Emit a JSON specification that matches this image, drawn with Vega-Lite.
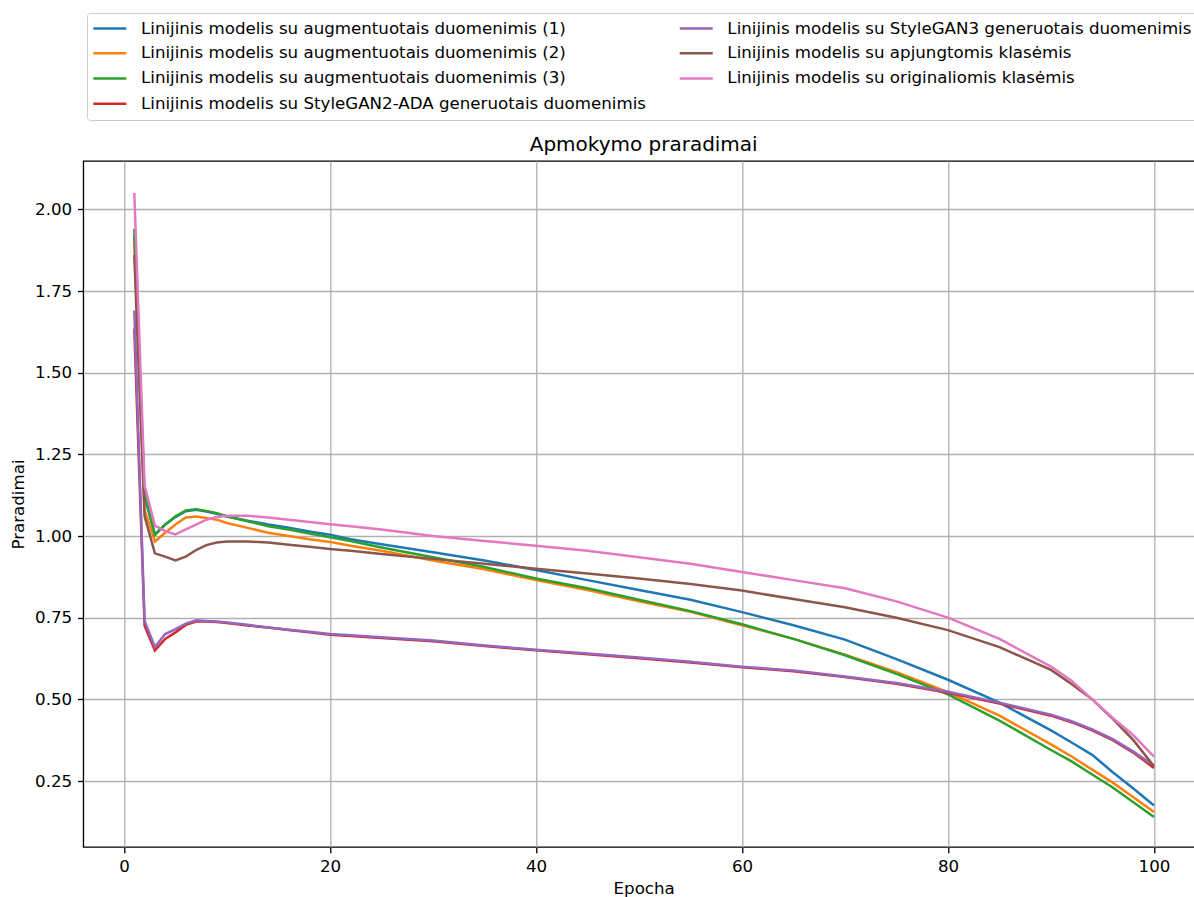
{
  "$schema": "https://vega.github.io/schema/vega-lite/v6.json",
  "width": 1112.4,
  "height": 686,
  "autosize": "none",
  "padding": {"left": 83.3, "top": 161, "right": 0, "bottom": 50},
  "background": "white",
  "config": {
    "font": "DejaVu Sans",
    "view": {"stroke": "black", "strokeWidth": 1.33},
    "axis": {
      "domain": false,
      "tickColor": "black",
      "tickWidth": 1.33,
      "tickSize": 5.8,
      "labelPadding": 5.8,
      "labelFontSize": 16.67,
      "labelFont": "DejaVu Sans",
      "labelColor": "black",
      "labelFlush": false,
      "labelOverlap": false,
      "grid": true,
      "gridColor": "#b0b0b0",
      "gridWidth": 1.33,
      "titleFont": "DejaVu Sans",
      "titleFontSize": 16.67,
      "titleFontWeight": "normal",
      "titleColor": "black"
    }
  },
  "title": {
    "text": "Apmokymo praradimai",
    "font": "DejaVu Sans",
    "fontSize": 20,
    "fontWeight": "normal",
    "color": "black",
    "anchor": "middle",
    "frame": "group",
    "baseline": "alphabetic",
    "offset": -158.7,
    "dx": 4.2
  },
  "datasets": {
    "names": [
      {"k": "a1", "name": "Linijinis modelis su augmentuotais duomenimis (1)"},
      {"k": "a2", "name": "Linijinis modelis su augmentuotais duomenimis (2)"},
      {"k": "a3", "name": "Linijinis modelis su augmentuotais duomenimis (3)"},
      {"k": "sg2", "name": "Linijinis modelis su StyleGAN2-ADA generuotais duomenimis"},
      {"k": "sg3", "name": "Linijinis modelis su StyleGAN3 generuotais duomenimis"},
      {"k": "apj", "name": "Linijinis modelis su apjungtomis klasėmis"},
      {"k": "orig", "name": "Linijinis modelis su originaliomis klasėmis"}
    ],
    "loss": [
      {"k":"a1","e":1,"v":1.92},{"k":"a1","e":2,"v":1.12},{"k":"a1","e":3,"v":1.005},{"k":"a1","e":4,"v":1.035},{"k":"a1","e":5,"v":1.058},{"k":"a1","e":6,"v":1.076},{"k":"a1","e":7,"v":1.08},{"k":"a1","e":8,"v":1.075},{"k":"a1","e":9,"v":1.068},{"k":"a1","e":10,"v":1.06},{"k":"a1","e":12,"v":1.047},{"k":"a1","e":14,"v":1.035},{"k":"a1","e":16,"v":1.025},{"k":"a1","e":18,"v":1.014},{"k":"a1","e":20,"v":1.004},{"k":"a1","e":22,"v":0.99},{"k":"a1","e":25,"v":0.975},{"k":"a1","e":30,"v":0.95},{"k":"a1","e":35,"v":0.925},{"k":"a1","e":40,"v":0.896},{"k":"a1","e":45,"v":0.865},{"k":"a1","e":50,"v":0.835},{"k":"a1","e":55,"v":0.805},{"k":"a1","e":60,"v":0.767},{"k":"a1","e":65,"v":0.727},{"k":"a1","e":70,"v":0.683},{"k":"a1","e":75,"v":0.623},{"k":"a1","e":80,"v":0.56},{"k":"a1","e":85,"v":0.49},{"k":"a1","e":90,"v":0.405},{"k":"a1","e":92,"v":0.368},{"k":"a1","e":94,"v":0.33},{"k":"a1","e":96,"v":0.277},{"k":"a1","e":98,"v":0.227},{"k":"a1","e":100,"v":0.175},
      {"k":"a2","e":1,"v":1.90},{"k":"a2","e":2,"v":1.08},{"k":"a2","e":3,"v":0.983},{"k":"a2","e":4,"v":1.01},{"k":"a2","e":5,"v":1.035},{"k":"a2","e":6,"v":1.057},{"k":"a2","e":7,"v":1.06},{"k":"a2","e":8,"v":1.055},{"k":"a2","e":9,"v":1.05},{"k":"a2","e":10,"v":1.04},{"k":"a2","e":12,"v":1.025},{"k":"a2","e":14,"v":1.01},{"k":"a2","e":16,"v":1.0},{"k":"a2","e":18,"v":0.99},{"k":"a2","e":20,"v":0.982},{"k":"a2","e":22,"v":0.97},{"k":"a2","e":25,"v":0.955},{"k":"a2","e":30,"v":0.925},{"k":"a2","e":35,"v":0.898},{"k":"a2","e":40,"v":0.865},{"k":"a2","e":45,"v":0.835},{"k":"a2","e":50,"v":0.80},{"k":"a2","e":55,"v":0.768},{"k":"a2","e":60,"v":0.727},{"k":"a2","e":65,"v":0.685},{"k":"a2","e":70,"v":0.637},{"k":"a2","e":75,"v":0.583},{"k":"a2","e":80,"v":0.522},{"k":"a2","e":85,"v":0.45},{"k":"a2","e":90,"v":0.362},{"k":"a2","e":92,"v":0.325},{"k":"a2","e":94,"v":0.285},{"k":"a2","e":96,"v":0.245},{"k":"a2","e":98,"v":0.2},{"k":"a2","e":100,"v":0.155},
      {"k":"a3","e":1,"v":1.94},{"k":"a3","e":2,"v":1.13},{"k":"a3","e":3,"v":1.003},{"k":"a3","e":4,"v":1.035},{"k":"a3","e":5,"v":1.06},{"k":"a3","e":6,"v":1.078},{"k":"a3","e":7,"v":1.082},{"k":"a3","e":8,"v":1.077},{"k":"a3","e":9,"v":1.07},{"k":"a3","e":10,"v":1.06},{"k":"a3","e":12,"v":1.045},{"k":"a3","e":14,"v":1.03},{"k":"a3","e":16,"v":1.02},{"k":"a3","e":18,"v":1.008},{"k":"a3","e":20,"v":0.996},{"k":"a3","e":22,"v":0.985},{"k":"a3","e":25,"v":0.965},{"k":"a3","e":30,"v":0.935},{"k":"a3","e":35,"v":0.905},{"k":"a3","e":40,"v":0.87},{"k":"a3","e":45,"v":0.84},{"k":"a3","e":50,"v":0.805},{"k":"a3","e":55,"v":0.77},{"k":"a3","e":60,"v":0.73},{"k":"a3","e":65,"v":0.685},{"k":"a3","e":70,"v":0.635},{"k":"a3","e":75,"v":0.578},{"k":"a3","e":80,"v":0.515},{"k":"a3","e":85,"v":0.435},{"k":"a3","e":90,"v":0.345},{"k":"a3","e":92,"v":0.31},{"k":"a3","e":94,"v":0.27},{"k":"a3","e":96,"v":0.23},{"k":"a3","e":98,"v":0.185},{"k":"a3","e":100,"v":0.14},
      {"k":"sg2","e":1,"v":1.635},{"k":"sg2","e":2,"v":0.725},{"k":"sg2","e":3,"v":0.65},{"k":"sg2","e":4,"v":0.685},{"k":"sg2","e":5,"v":0.705},{"k":"sg2","e":6,"v":0.728},{"k":"sg2","e":7,"v":0.738},{"k":"sg2","e":8,"v":0.738},{"k":"sg2","e":9,"v":0.737},{"k":"sg2","e":10,"v":0.734},{"k":"sg2","e":12,"v":0.726},{"k":"sg2","e":14,"v":0.72},{"k":"sg2","e":16,"v":0.712},{"k":"sg2","e":18,"v":0.705},{"k":"sg2","e":20,"v":0.698},{"k":"sg2","e":22,"v":0.694},{"k":"sg2","e":25,"v":0.688},{"k":"sg2","e":30,"v":0.678},{"k":"sg2","e":35,"v":0.663},{"k":"sg2","e":40,"v":0.65},{"k":"sg2","e":45,"v":0.638},{"k":"sg2","e":50,"v":0.626},{"k":"sg2","e":55,"v":0.613},{"k":"sg2","e":60,"v":0.598},{"k":"sg2","e":65,"v":0.586},{"k":"sg2","e":70,"v":0.568},{"k":"sg2","e":75,"v":0.548},{"k":"sg2","e":80,"v":0.52},{"k":"sg2","e":85,"v":0.487},{"k":"sg2","e":90,"v":0.45},{"k":"sg2","e":92,"v":0.43},{"k":"sg2","e":94,"v":0.405},{"k":"sg2","e":96,"v":0.375},{"k":"sg2","e":98,"v":0.337},{"k":"sg2","e":100,"v":0.29},
      {"k":"sg3","e":1,"v":1.69},{"k":"sg3","e":2,"v":0.74},{"k":"sg3","e":3,"v":0.66},{"k":"sg3","e":4,"v":0.70},{"k":"sg3","e":5,"v":0.715},{"k":"sg3","e":6,"v":0.732},{"k":"sg3","e":7,"v":0.742},{"k":"sg3","e":8,"v":0.74},{"k":"sg3","e":9,"v":0.738},{"k":"sg3","e":10,"v":0.735},{"k":"sg3","e":12,"v":0.728},{"k":"sg3","e":14,"v":0.72},{"k":"sg3","e":16,"v":0.713},{"k":"sg3","e":18,"v":0.707},{"k":"sg3","e":20,"v":0.70},{"k":"sg3","e":22,"v":0.696},{"k":"sg3","e":25,"v":0.69},{"k":"sg3","e":30,"v":0.68},{"k":"sg3","e":35,"v":0.665},{"k":"sg3","e":40,"v":0.652},{"k":"sg3","e":45,"v":0.64},{"k":"sg3","e":50,"v":0.628},{"k":"sg3","e":55,"v":0.615},{"k":"sg3","e":60,"v":0.60},{"k":"sg3","e":65,"v":0.588},{"k":"sg3","e":70,"v":0.57},{"k":"sg3","e":75,"v":0.55},{"k":"sg3","e":80,"v":0.523},{"k":"sg3","e":85,"v":0.49},{"k":"sg3","e":90,"v":0.453},{"k":"sg3","e":92,"v":0.433},{"k":"sg3","e":94,"v":0.408},{"k":"sg3","e":96,"v":0.378},{"k":"sg3","e":98,"v":0.34},{"k":"sg3","e":100,"v":0.297},
      {"k":"apj","e":1,"v":1.86},{"k":"apj","e":2,"v":1.06},{"k":"apj","e":3,"v":0.947},{"k":"apj","e":4,"v":0.937},{"k":"apj","e":5,"v":0.925},{"k":"apj","e":6,"v":0.937},{"k":"apj","e":7,"v":0.957},{"k":"apj","e":8,"v":0.972},{"k":"apj","e":9,"v":0.98},{"k":"apj","e":10,"v":0.983},{"k":"apj","e":12,"v":0.983},{"k":"apj","e":14,"v":0.98},{"k":"apj","e":16,"v":0.973},{"k":"apj","e":18,"v":0.967},{"k":"apj","e":20,"v":0.96},{"k":"apj","e":22,"v":0.955},{"k":"apj","e":25,"v":0.945},{"k":"apj","e":30,"v":0.93},{"k":"apj","e":35,"v":0.915},{"k":"apj","e":40,"v":0.90},{"k":"apj","e":45,"v":0.885},{"k":"apj","e":50,"v":0.87},{"k":"apj","e":55,"v":0.853},{"k":"apj","e":60,"v":0.833},{"k":"apj","e":65,"v":0.807},{"k":"apj","e":70,"v":0.782},{"k":"apj","e":75,"v":0.75},{"k":"apj","e":80,"v":0.712},{"k":"apj","e":85,"v":0.66},{"k":"apj","e":90,"v":0.59},{"k":"apj","e":92,"v":0.547},{"k":"apj","e":94,"v":0.50},{"k":"apj","e":96,"v":0.44},{"k":"apj","e":98,"v":0.375},{"k":"apj","e":100,"v":0.295},
      {"k":"orig","e":1,"v":2.05},{"k":"orig","e":2,"v":1.155},{"k":"orig","e":3,"v":1.032},{"k":"orig","e":4,"v":1.015},{"k":"orig","e":5,"v":1.005},{"k":"orig","e":6,"v":1.02},{"k":"orig","e":7,"v":1.035},{"k":"orig","e":8,"v":1.05},{"k":"orig","e":9,"v":1.058},{"k":"orig","e":10,"v":1.062},{"k":"orig","e":12,"v":1.062},{"k":"orig","e":14,"v":1.057},{"k":"orig","e":16,"v":1.05},{"k":"orig","e":18,"v":1.043},{"k":"orig","e":20,"v":1.036},{"k":"orig","e":22,"v":1.03},{"k":"orig","e":25,"v":1.02},{"k":"orig","e":30,"v":1.0},{"k":"orig","e":35,"v":0.985},{"k":"orig","e":40,"v":0.97},{"k":"orig","e":45,"v":0.955},{"k":"orig","e":50,"v":0.935},{"k":"orig","e":55,"v":0.915},{"k":"orig","e":60,"v":0.89},{"k":"orig","e":65,"v":0.865},{"k":"orig","e":70,"v":0.84},{"k":"orig","e":75,"v":0.80},{"k":"orig","e":80,"v":0.75},{"k":"orig","e":85,"v":0.685},{"k":"orig","e":90,"v":0.60},{"k":"orig","e":92,"v":0.557},{"k":"orig","e":94,"v":0.50},{"k":"orig","e":96,"v":0.443},{"k":"orig","e":98,"v":0.39},{"k":"orig","e":100,"v":0.325}
    ]
  },
  "data": {"name": "loss"},
  "transform": [
    {"lookup": "k", "from": {"data": {"name": "names"}, "key": "k", "fields": ["name"]}}
  ],
  "mark": {"type": "line", "strokeWidth": 2.5, "clip": true},
  "encoding": {
    "x": {
      "field": "e",
      "type": "quantitative",
      "scale": {"domain": [-3.95, 104.05], "nice": false, "zero": false},
      "axis": {"values": [0, 20, 40, 60, 80, 100], "format": "d", "title": "Epocha", "titleX": 560.4, "titlePadding": 5}
    },
    "y": {
      "field": "v",
      "type": "quantitative",
      "scale": {"domain": [0.048, 2.148], "nice": false, "zero": false},
      "axis": {"values": [0.25, 0.5, 0.75, 1.0, 1.25, 1.5, 1.75, 2.0], "format": ".2f", "title": "Praradimai", "titlePadding": 6.7}
    },
    "color": {
      "field": "name",
      "type": "nominal",
      "scale": {
        "domain": [
          "Linijinis modelis su augmentuotais duomenimis (1)",
          "Linijinis modelis su augmentuotais duomenimis (2)",
          "Linijinis modelis su augmentuotais duomenimis (3)",
          "Linijinis modelis su StyleGAN2-ADA generuotais duomenimis",
          "Linijinis modelis su StyleGAN3 generuotais duomenimis",
          "Linijinis modelis su apjungtomis klasėmis",
          "Linijinis modelis su originaliomis klasėmis"
        ],
        "range": ["#1f77b4", "#ff7f0e", "#2ca02c", "#d62728", "#9467bd", "#8c564b", "#e377c2"]
      },
      "legend": {
        "orient": "none",
        "legendX": 3.7,
        "legendY": -148,
        "title": null,
        "columns": 2,
        "gridAlign": "each",
        "symbolType": "M-3.3,0H3.3",
        "symbolSize": 100,
        "symbolStrokeWidth": 2.5,
        "symbolOffset": 7.8,
        "labelOffset": 22.8,
        "labelFont": "DejaVu Sans",
        "labelFontSize": 16.67,
        "labelColor": "black",
        "labelLimit": 2000,
        "rowPadding": 7.2,
        "columnPadding": 27.4,
        "padding": 6.7,
        "strokeColor": "#cccccc",
        "fillColor": "rgba(255,255,255,0.8)",
        "cornerRadius": 3
      }
    }
  }
}
